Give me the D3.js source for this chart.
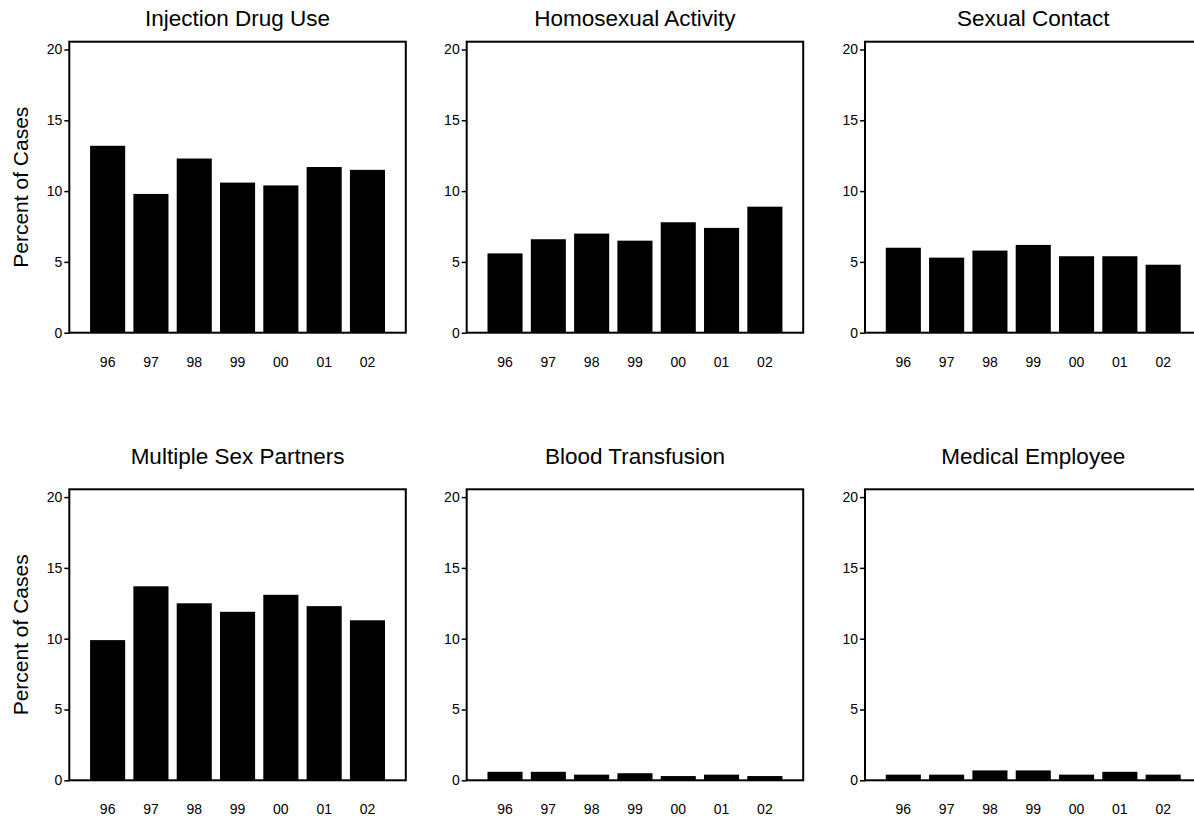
<!DOCTYPE html>
<html>
<head>
<meta charset="utf-8">
<script src="https://cdn.jsdelivr.net/npm/d3@7"></script>
<style>
  html, body { margin: 0; padding: 0; background: #fff; }
  svg { display: block; font-family: Arial, "Liberation Sans", sans-serif; }
</style>
</head>
<body>
<svg id="chart" width="1194" height="819"></svg>
<script>
const years = ["96", "97", "98", "99", "00", "01", "02"];
const titles = ["Injection Drug Use", "Homosexual Activity", "Sexual Contact",
                "Multiple Sex Partners", "Blood Transfusion", "Medical Employee"];
const injectionDrugUse   = [13.2, 9.8, 12.3, 10.6, 10.4, 11.7, 11.5];
const homosexualActivity = [5.6, 6.6, 7.0, 6.5, 7.8, 7.4, 8.9];
const sexualContact      = [6.0, 5.3, 5.8, 6.2, 5.4, 5.4, 4.8];
const multipleSexPartners= [9.9, 13.7, 12.5, 11.9, 13.1, 12.3, 11.3];
const bloodTransfusion   = [0.6, 0.6, 0.4, 0.5, 0.3, 0.4, 0.3];
const medicalEmployee    = [0.4, 0.4, 0.7, 0.7, 0.4, 0.6, 0.4];
const yTicks = [0, 5, 10, 15, 20];
const yLabel = "Percent of Cases";

const seriesList = [injectionDrugUse, homosexualActivity, sexualContact,
                    multipleSexPartners, bloodTransfusion, medicalEmployee];

const svg = d3.select("#chart");
const colX = [69.3, 466.7, 865];
const rowTop = [41.7, 489.3];
const titleY = [18.3, 456.7];
const pw = 336.5, ph = 291;

seriesList.forEach((vals, i) => {
  const col = i % 3, row = Math.floor(i / 3);
  const x0 = colX[col], y0 = rowTop[row];
  const g = svg.append("g");

  const x = d3.scaleBand().domain(years).range([x0, x0 + pw])
    .paddingInner(0.19).paddingOuter(0.48);
  const y = d3.scaleLinear().domain([0, 20.55]).range([y0 + ph, y0]);

  g.selectAll("rect.bar").data(vals).join("rect")
    .attr("class", "bar")
    .attr("x", (d, j) => x(years[j]))
    .attr("width", x.bandwidth())
    .attr("y", d => y(d))
    .attr("height", d => y(0) - y(d))
    .attr("fill", "#000");

  // frame
  g.append("rect")
    .attr("x", x0).attr("y", y0).attr("width", pw).attr("height", ph)
    .attr("fill", "none").attr("stroke", "#000").attr("stroke-width", 2);

  // y axis
  const ya = g.append("g").attr("transform", `translate(${x0},0)`)
    .call(d3.axisLeft(y).tickValues(yTicks).tickSize(5).tickPadding(2).tickSizeOuter(0));
  ya.select(".domain").remove();
  ya.selectAll(".tick line").attr("stroke", "#000").attr("stroke-width", 1.5);
  ya.selectAll(".tick text").attr("font-size", 14).attr("fill", "#000")
    .attr("font-family", "Arial, 'Liberation Sans', sans-serif");

  // x axis
  const xa = g.append("g").attr("transform", `translate(0,${y0 + ph})`)
    .call(d3.axisBottom(x).tickSize(0).tickPadding(24).tickSizeOuter(0));
  xa.select(".domain").remove();
  xa.selectAll(".tick text").attr("font-size", 14).attr("fill", "#000")
    .attr("font-family", "Arial, 'Liberation Sans', sans-serif");

  // title
  g.append("text")
    .attr("x", x0 + pw / 2).attr("y", titleY[row])
    .attr("text-anchor", "middle").attr("dominant-baseline", "central")
    .attr("font-size", 22.5).attr("fill", "#000")
    .text(titles[i]);

  if (col === 0) {
    g.append("text")
      .attr("transform", `translate(20.7,${y0 + ph / 2}) rotate(-90)`)
      .attr("text-anchor", "middle").attr("dominant-baseline", "central")
      .attr("font-size", 21).attr("fill", "#000")
      .text(yLabel);
  }
});
</script>
</body>
</html>
